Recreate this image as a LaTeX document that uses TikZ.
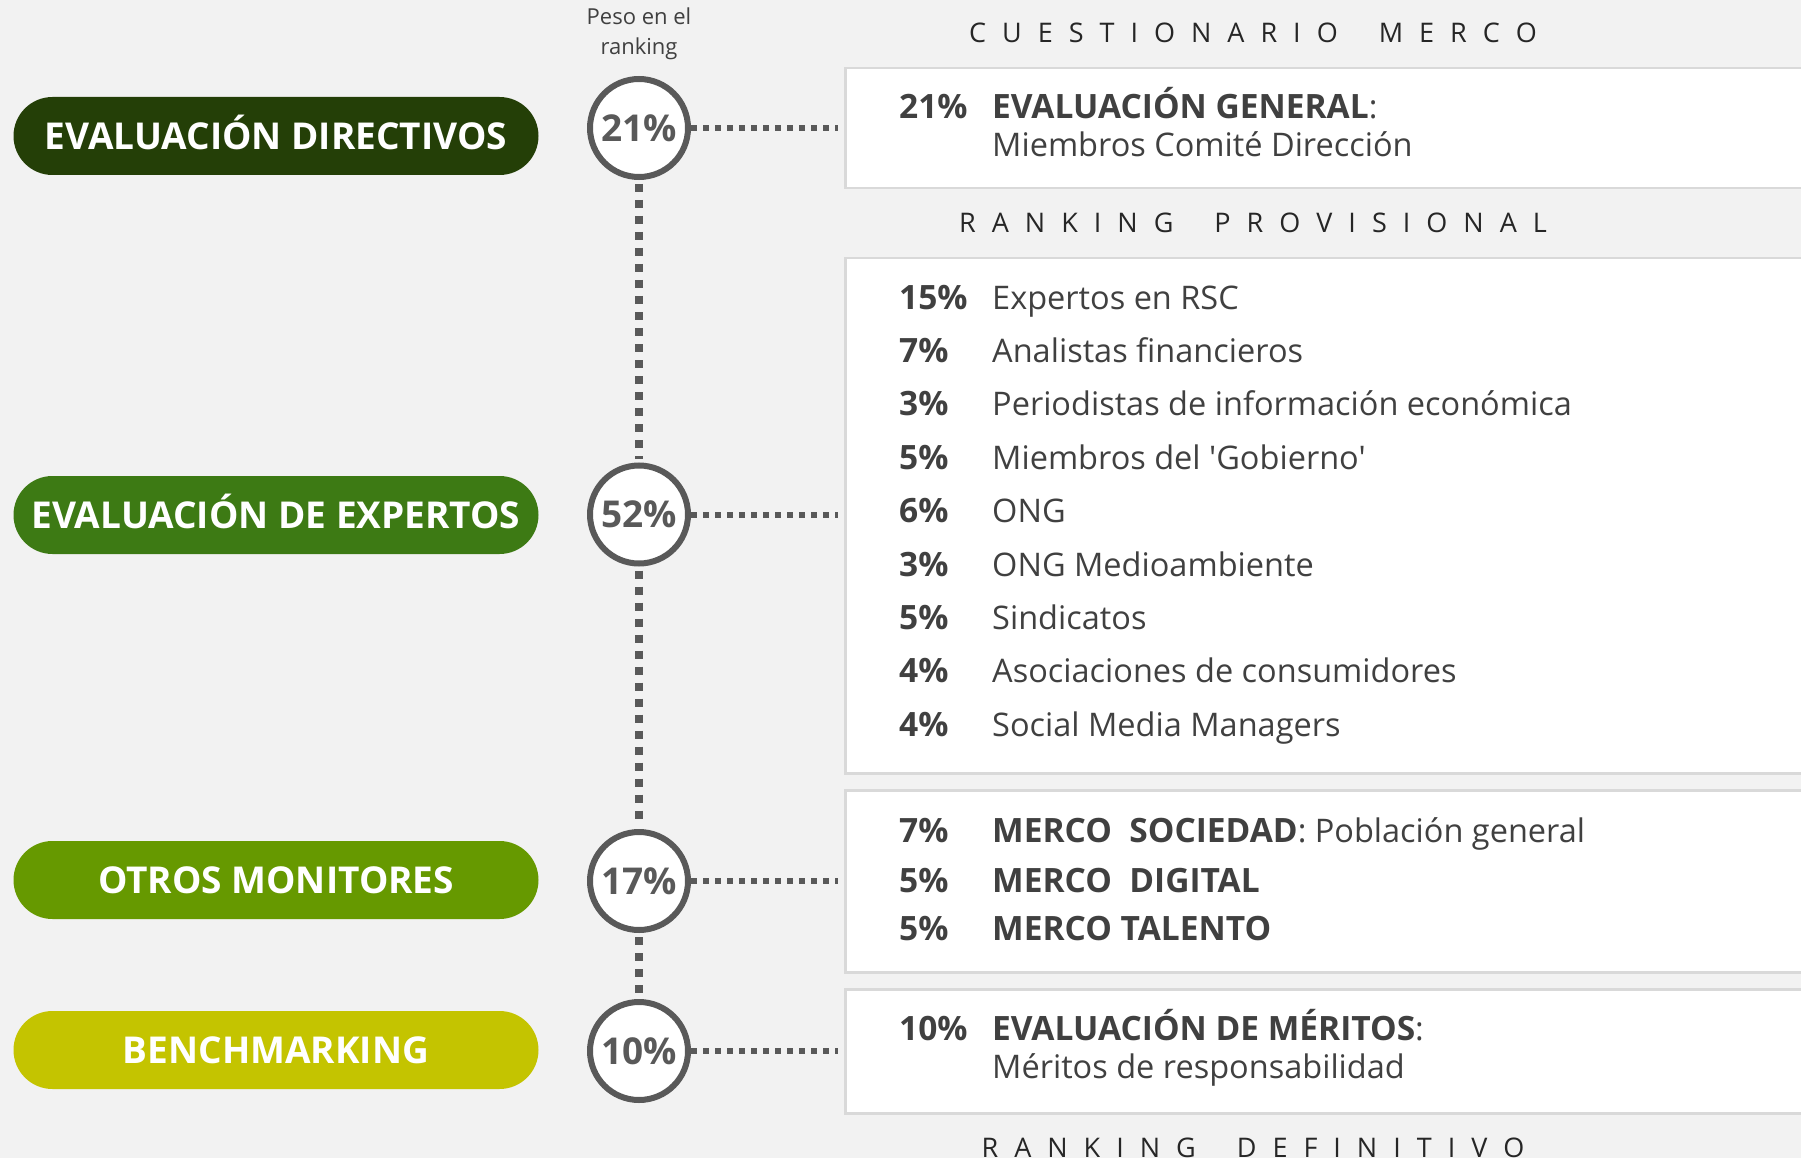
\documentclass[tikz,border=0pt]{standalone}
\usepackage{fontspec}
\setmainfont{Open Sans}[Ligatures=TeXOff]
\usetikzlibrary{shapes.misc}
\definecolor{bg}{HTML}{F2F2F2}
\definecolor{gA}{HTML}{243F07}
\definecolor{gB}{HTML}{3D7A14}
\definecolor{gC}{HTML}{669900}
\definecolor{gD}{HTML}{C4C400}
\definecolor{ringgrey}{HTML}{595959}
\definecolor{boxline}{HTML}{D9D9D9}
\definecolor{txt}{HTML}{404040}
\definecolor{ttlc}{HTML}{262626}
\newcommand{\bx}[1]{{\fontsize{33.5}{36}\selectfont\bfseries #1}}
\begin{document}
\begin{tikzpicture}[x=1pt,y=-1pt,
  pill/.style={rounded rectangle, minimum width=525pt, minimum height=78pt, inner sep=0pt,
    text height=26.5pt, text depth=0pt,
    text=white, font=\fontsize{37}{40}\selectfont\bfseries},
  ring/.style={circle, draw=ringgrey, line width=6pt, fill=white, minimum size=98pt, inner sep=0pt,
    text=ringgrey, font=\fontsize{37}{40}\selectfont\bfseries},
  panel/.style={rectangle, draw=boxline, line width=2.5pt, fill=white, anchor=north west,
    minimum width=1000pt, inner sep=0pt},
  hdot/.style={draw=ringgrey, line width=6pt, dash pattern=on 6pt off 6pt, shorten >=6pt},
  vdot/.style={draw=ringgrey, line width=8pt, dash pattern=on 8pt off 8pt, shorten <=4pt, shorten >=4pt},
  pct/.style={anchor=base west, inner sep=0pt, text=txt, font=\fontsize{33.5}{36}\selectfont\bfseries},
  lbl/.style={anchor=base west, inner sep=0pt, text=txt, font=\fontsize{32.5}{36}\selectfont},
  ttl/.style={anchor=base, inner sep=0pt, text=ttlc, font=\fontsize{27}{30}\selectfont},
  peso/.style={align=center, inner sep=0pt, text=txt, font=\fontsize{22}{30}\selectfont}
]
\clip (0,0) rectangle (1801,1158);
\fill[bg] (0,0) rectangle (1801,1158);

% panels
\node[panel, minimum height=120pt] (b1) at (844,67) {};
\node[panel, minimum height=515pt] (b2) at (844,257) {};
\node[panel, minimum height=182pt] (b3) at (844,789) {};
\node[panel, minimum height=124pt] (b4) at (844,988) {};

% pills
\node[pill, fill=gA] (p1) at (276,136) {EVALUACIÓN DIRECTIVOS};
\node[pill, fill=gB] (p2) at (276,515) {EVALUACIÓN DE EXPERTOS};
\node[pill, fill=gC] (p3) at (276,880) {OTROS MONITORES};
\node[pill, fill=gD] (p4) at (276,1050) {BENCHMARKING};

% rings
\node[ring] (c1) at (639,128) {21\%};
\node[ring] (c2) at (639,514.5) {52\%};
\node[ring] (c3) at (639,881) {17\%};
\node[ring] (c4) at (639,1051) {10\%};

% connectors
\draw[vdot] (c1.south) -- (c2.north);
\draw[vdot] (c2.south) -- (c3.north);
\draw[vdot] (c3.south) -- (c4.north);
\draw[hdot] (c1.east) -- (c1.east -| b1.west);
\draw[hdot] (c2.east) -- (c2.east -| b2.west);
\draw[hdot] (c3.east) -- (c3.east -| b3.west);
\draw[hdot] (c4.east) -- (c4.east -| b4.west);

% header
\node[peso] (peso) at (639,34) {Peso en el\\ranking};
\node[ttl] (t1) at (1253,42.5) {\spaceskip=16pt C U E S T I O N A R I O\hspace{41pt}M E R C O};
\node[ttl] (t2) at (1253,233) {\spaceskip=16pt R A N K I N G\hspace{41pt}P R O V I S I O N A L};
\node[ttl] (t3) at (1253,1157) {\spaceskip=16pt R A N K I N G\hspace{41pt}D E F I N I T I V O};

% box 1
\node[pct] (a1) at (899,119) {21\%};
\node[lbl] (a2) at (992,119) {\bx{EVALUACIÓN GENERAL}:};
\node[lbl] (a3) at (992,157) {Miembros Comité Dirección};

% box 2
\node[pct] (e1p) at (899,309) {15\%};
\node[lbl] (e1)  at (992,309) {Expertos en RSC};
\node[pct] (e2p) at (899,362.4) {7\%};
\node[lbl] (e2)  at (992,362.4) {Analistas financieros};
\node[pct] (e3p) at (899,415.8) {3\%};
\node[lbl] (e3)  at (992,415.8) {Periodistas de información económica};
\node[pct] (e4p) at (899,469.2) {5\%};
\node[lbl] (e4)  at (992,469.2) {Miembros del 'Gobierno'};
\node[pct] (e5p) at (899,522.6) {6\%};
\node[lbl] (e5)  at (992,522.6) {ONG};
\node[pct] (e6p) at (899,576) {3\%};
\node[lbl] (e6)  at (992,576) {ONG Medioambiente};
\node[pct] (e7p) at (899,629.4) {5\%};
\node[lbl] (e7)  at (992,629.4) {Sindicatos};
\node[pct] (e8p) at (899,682.8) {4\%};
\node[lbl] (e8)  at (992,682.8) {Asociaciones de consumidores};
\node[pct] (e9p) at (899,736.2) {4\%};
\node[lbl] (e9)  at (992,736.2) {Social Media Managers};

% box 3
\node[pct] (m1p) at (899,842.5) {7\%};
\node[lbl] (m1)  at (992,842.5) {\bx{MERCO\ \ SOCIEDAD}: Población general};
\node[pct] (m2p) at (899,892.5) {5\%};
\node[lbl] (m2)  at (992,892.5) {\bx{MERCO\ \ DIGITAL}};
\node[pct] (m3p) at (899,940.5) {5\%};
\node[lbl] (m3)  at (992,940.5) {\bx{MERCO TALENTO}};

% box 4
\node[pct] (d1p) at (899,1040.5) {10\%};
\node[lbl] (d1)  at (992,1040.5) {\bx{EVALUACIÓN DE MÉRITOS}:};
\node[lbl] (d2)  at (992,1078.5) {Méritos de responsabilidad};
\end{tikzpicture}
\end{document}
